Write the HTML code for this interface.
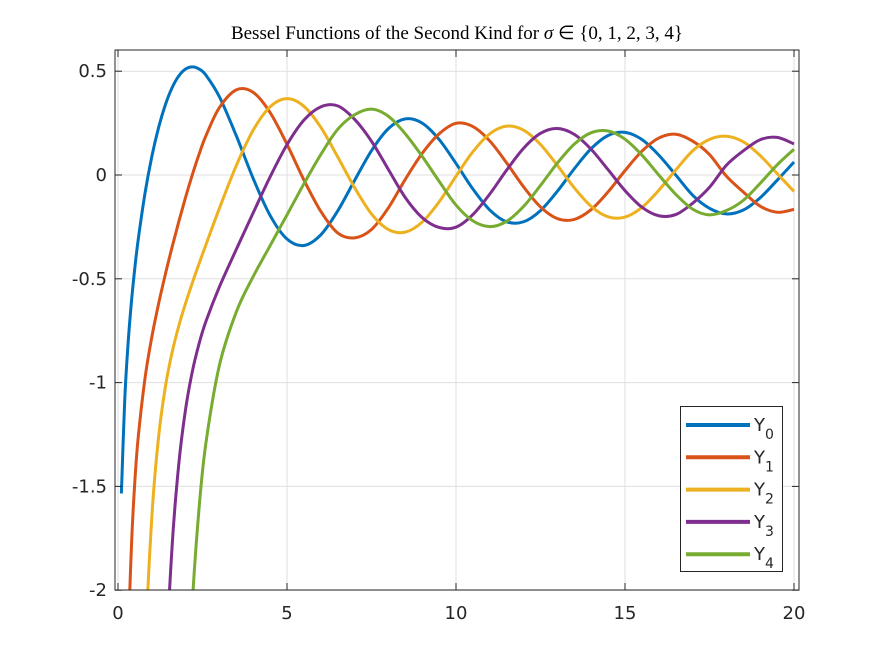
<!DOCTYPE html>
<html><head><meta charset="utf-8"><style>
html,body{margin:0;padding:0;background:#fff;width:884px;height:663px;overflow:hidden;}
svg{display:block;}
text{font-family:"DejaVu Sans","Liberation Sans",sans-serif;fill:#262626;}
</style></head><body>
<svg id="chart" width="884" height="663" viewBox="0 0 884 663">
<text x="457" y="39" text-anchor="middle" style="font-family:'Liberation Serif',serif;font-size:19px;fill:#000">Bessel Functions of the Second Kind for <tspan font-style="italic">σ</tspan> ∈ {0, 1, 2, 3, 4}</text>
</svg>
<script>
const xValues=[0.1,0.2,0.3,0.4,0.5,0.6,0.8,1,1.2,1.4,1.6,1.8,2,2.2,2.4,2.6,3,3.5,4,4.5,5,5.5,6,6.5,7,7.5,8,8.5,9,9.5,10,10.5,11,11.5,12,12.5,13,13.5,14,14.5,15,15.5,16,16.5,17,17.5,18,18.5,19,19.5,20];
const y0Values=[-1.5342,-1.0811,-0.8073,-0.6060,-0.4445,-0.3085,-0.0868,0.0883,0.2281,0.3379,0.4204,0.4774,0.5104,0.5208,0.5104,0.4813,0.3769,0.1890,-0.0169,-0.1947,-0.3085,-0.3395,-0.2882,-0.1732,-0.0260,0.1173,0.2235,0.2703,0.2499,0.1712,0.0557,-0.0676,-0.1688,-0.2254,-0.2252,-0.1714,-0.0782,0.0301,0.1272,0.1904,0.2055,0.1708,0.0958,0.0002,-0.0970,-0.1604,-0.1875,-0.1687,-0.1095,-0.0255,0.0627];
const y1Values=[-6.4590,-3.3238,-2.2931,-1.7809,-1.4715,-1.2604,-0.9781,-0.7812,-0.6211,-0.4791,-0.3476,-0.2237,-0.1070,0.0015,0.1005,0.1884,0.3247,0.4102,0.3979,0.3010,0.1479,-0.0238,-0.1750,-0.2793,-0.3027,-0.2625,-0.1581,-0.0206,0.1043,0.1982,0.2490,0.2334,0.1637,0.0579,-0.0571,-0.1538,-0.2101,-0.2139,-0.1666,-0.0810,0.0211,0.1147,0.1780,0.1964,0.1635,0.0985,-0.0056,-0.0817,-0.1502,-0.1795,-0.1655];
const y2Values=[null,null,null,null,-5.4415,-3.8928,-2.3585,-1.6507,-1.2633,-1.0223,-0.8549,-0.7260,-0.6174,-0.5194,-0.4266,-0.3364,-0.1604,0.0454,0.2159,0.3285,0.3677,0.3308,0.2299,0.0873,-0.0605,-0.1873,-0.2630,-0.2751,-0.2267,-0.1295,-0.0059,0.1121,0.1986,0.2355,0.2157,0.1468,0.0459,-0.0618,-0.1510,-0.2016,-0.2027,-0.1560,-0.0735,0.0236,0.1162,0.1717,0.1869,0.1599,0.0937,0.0071,-0.0793];
const y3Values=[null,null,null,null,null,null,null,-5.8216,-3.5899,-2.4417,-1.7897,-1.3896,-1.1278,-0.9459,-0.8115,-0.7059,-0.5386,-0.3583,-0.1820,-0.0090,0.1463,0.2644,0.3283,0.3330,0.2681,0.1626,0.0266,-0.1089,-0.2051,-0.2527,-0.2514,-0.1907,-0.0915,0.0240,0.1290,0.2008,0.2242,0.1956,0.1235,0.0254,-0.0752,-0.1550,-0.1964,-0.1907,-0.1362,-0.0592,0.0471,0.1163,0.1699,0.1810,0.1496];
const y4Values=[null,null,null,null,null,null,null,null,null,-9.4421,-5.8565,-3.9060,-2.7660,-2.0603,-1.6022,-1.2926,-0.9168,-0.6596,-0.4889,-0.3405,-0.1921,-0.0424,0.0984,0.2201,0.2903,0.3174,0.2830,0.1982,0.0900,-0.0301,-0.1449,-0.2211,-0.2485,-0.2230,-0.1512,-0.0504,0.0576,0.1487,0.2039,0.2121,0.1726,0.0960,-0.0002,-0.0929,-0.1643,-0.1920,-0.1712,-0.1222,-0.0400,0.0486,0.1242];
const seriesNames=["Y0","Y1","Y2","Y3","Y4"];
const xTicks=[0,5,10,15,20];
const yTicks=[0.5,0,-0.5,-1,-1.5,-2];
const yTickLabels=["0.5","0","-0.5","-1","-1.5","-2"];

const NS="http://www.w3.org/2000/svg";
const svg=document.getElementById('chart');
const L=115,R=799,T=50,B=590;
function xPx(v){return 118+v*33.8;}
function yPx(v){return 175-v*207.6;}
function mk(tag,attrs,parent){const e=document.createElementNS(NS,tag);for(const k in attrs)e.setAttribute(k,attrs[k]);(parent||svg).appendChild(e);return e;}

const defs=mk('defs',{});
const cp=mk('clipPath',{id:'clip'},defs);
mk('rect',{x:L,y:T,width:R-L,height:B-T},cp);

const grid=mk('g',{});


xTicks.forEach(t=>{const l=mk('line',{x1:xPx(t),x2:xPx(t),y1:T,y2:B,stroke:'#dfdfdf','stroke-width':1},grid);

});
yTicks.forEach(t=>{const l=mk('line',{x1:L,x2:R,y1:yPx(t),y2:yPx(t),stroke:'#dfdfdf','stroke-width':1},grid);

});

const colors=['#0072BD','#D95319','#EDB120','#7E2F8E','#77AC30'];
const allSeries=[y0Values,y1Values,y2Values,y3Values,y4Values];
const plot=mk('g',{'clip-path':'url(#clip)'});
function pathFor(vals){
  const pts=[];vals.forEach((v,i)=>{if(v!==null)pts.push([xPx(xValues[i]),yPx(v)]);});
  let d='M'+pts[0][0].toFixed(2)+','+pts[0][1].toFixed(2);
  for(let i=0;i<pts.length-1;i++){
    const p0=pts[i-1]||pts[i],p1=pts[i],p2=pts[i+1],p3=pts[i+2]||p2;
    const c1=[p1[0]+(p2[0]-p0[0])/6,p1[1]+(p2[1]-p0[1])/6];
    const c2=[p2[0]-(p3[0]-p1[0])/6,p2[1]-(p3[1]-p1[1])/6];
    d+='C'+c1[0].toFixed(2)+','+c1[1].toFixed(2)+' '+c2[0].toFixed(2)+','+c2[1].toFixed(2)+' '+p2[0].toFixed(2)+','+p2[1].toFixed(2);
  }
  return d;
}
allSeries.forEach((vals,k)=>{
  const p=mk('path',{d:pathFor(vals),fill:'none',stroke:colors[k],'stroke-width':3,'stroke-linejoin':'round'},plot);
  
  
});

const axes=mk('g',{});


mk('rect',{x:L,y:T,width:R-L,height:B-T,fill:'none',stroke:'#262626','stroke-width':1},axes);
xTicks.forEach(t=>{const x=xPx(t);
  mk('line',{x1:x,x2:x,y1:B,y2:B-7,stroke:'#262626'},axes);
  mk('line',{x1:x,x2:x,y1:T,y2:T+7,stroke:'#262626'},axes);
  const tx=mk('text',{x:x,y:619,'text-anchor':'middle','font-size':18},axes);tx.textContent=String(t);
  
  
});
yTicks.forEach((t,i)=>{const y=yPx(t);
  mk('line',{x1:L,x2:L+7,y1:y,y2:y,stroke:'#262626'},axes);
  mk('line',{x1:R,x2:R-7,y1:y,y2:y,stroke:'#262626'},axes);
  const tx=mk('text',{x:107,y:y+6,'text-anchor':'end','font-size':18},axes);tx.textContent=yTickLabels[i];
  
  
});

const leg=mk('g',{});


mk('rect',{x:680.5,y:406.5,width:102,height:165,fill:'#fff',stroke:'#262626','stroke-width':1},leg);
seriesNames.forEach((n,k)=>{
  const y=425+k*32.3;
  const e=mk('g',{},leg);
  
  
  mk('line',{x1:686,x2:750,y1:y,y2:y,stroke:colors[k],'stroke-width':4},e);
  const t=mk('text',{x:754,y:y+6,'font-size':18},e);
  t.textContent='Y';
  const s=mk('tspan',{dy:8,'font-size':14},t);s.textContent=n.slice(1);
});
</script>
</body></html>
